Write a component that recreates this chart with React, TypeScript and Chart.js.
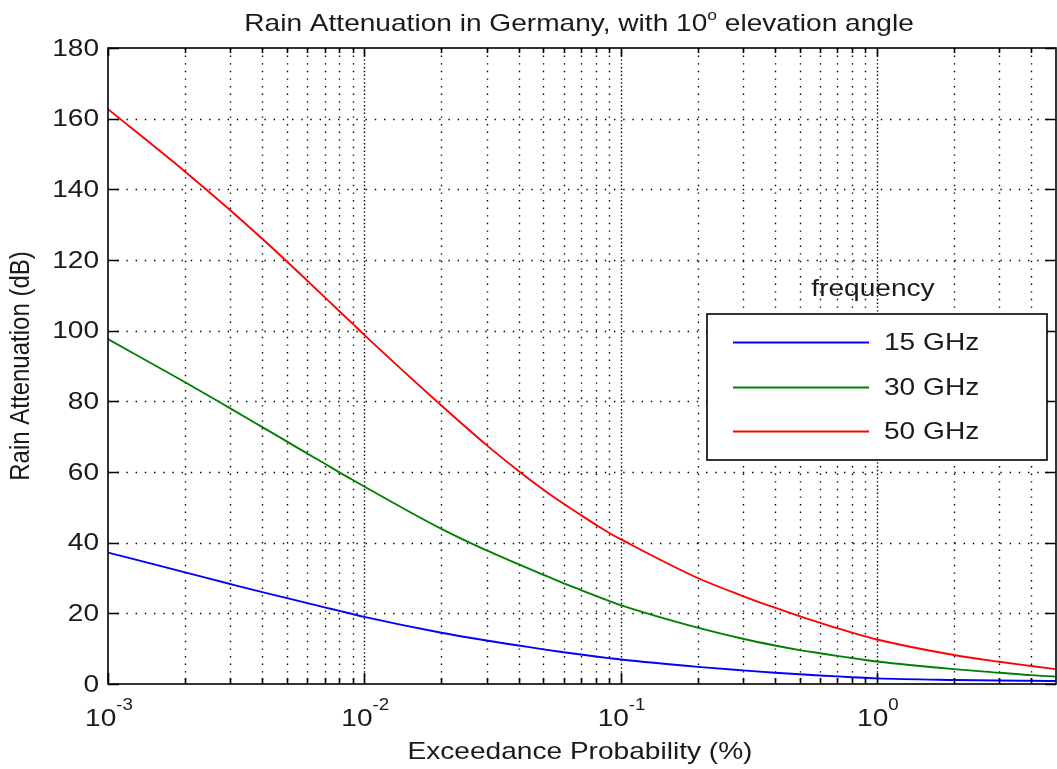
import React, { useEffect, useRef } from 'react';
import { Chart, registerables } from 'chart.js';

Chart.register(...registerables);

// ---------------- data ----------------
const probabilities = [
  0.001, 0.002, 0.003, 0.004, 0.005, 0.006, 0.007, 0.008, 0.009,
  0.01, 0.02, 0.03, 0.04, 0.05, 0.06, 0.07, 0.08, 0.09,
  0.1, 0.2, 0.3, 0.4, 0.5, 0.6, 0.7, 0.8, 0.9,
  1, 2, 3, 4, 5,
];
const att15GHz = [
  37.2, 31.6, 28.3, 26.0, 24.3, 22.9, 21.7, 20.7, 19.8,
  19.0, 14.5, 12.3, 10.9, 9.8, 9.0, 8.35, 7.8, 7.33,
  6.92, 4.85, 3.85, 3.2, 2.75, 2.42, 2.15, 1.93, 1.75,
  1.6, 1.15, 0.98, 0.9, 0.85,
];
const att30GHz = [
  97.6, 85.4, 78.0, 72.7, 68.6, 65.2, 62.4, 59.9, 57.8,
  55.9, 43.9, 37.8, 33.9, 30.9, 28.5, 26.6, 24.95, 23.55,
  22.35, 15.95, 12.8, 10.9, 9.6, 8.7, 7.95, 7.35, 6.8,
  6.35, 4.2, 3.2, 2.5, 2.1,
];
const att50GHz = [
  162.7, 145.0, 134.1, 126.0, 119.5, 114.1, 109.5, 105.5, 102.0,
  98.8, 78.8, 67.6, 60.3, 55.0, 51.0, 47.8, 45.1, 42.8,
  41.0, 30.0, 24.9, 21.6, 19.2, 17.3, 15.8, 14.55, 13.5,
  12.6, 8.2, 6.3, 5.1, 4.2,
];
const seriesLabels = ['15 GHz', '30 GHz', '50 GHz'];
const seriesColors = ['#0000ff', '#008000', '#ff0000'];

const yTicks = [0, 20, 40, 60, 80, 100, 120, 140, 160, 180];
const xMajorTicks = [0.001, 0.01, 0.1, 1];
const xMajorExponents = ['-3', '-2', '-1', '0'];
const xMinorTicks = [
  0.002, 0.003, 0.004, 0.005, 0.006, 0.007, 0.008, 0.009,
  0.02, 0.03, 0.04, 0.05, 0.06, 0.07, 0.08, 0.09,
  0.2, 0.3, 0.4, 0.5, 0.6, 0.7, 0.8, 0.9,
  2, 3, 4,
];
const xMin = 0.001;
const xMax = 5;
const yMin = 0;
const yMax = 180;

const titleMain = 'Rain Attenuation in Germany, with 10';
const titleSup = 'o';
const titleRest = ' elevation angle';
const xTitle = 'Exceedance Probability (%)';
const yTitle = 'Rain Attenuation (dB)';
const legendTitle = 'frequency';

// ---------------- drawing helpers ----------------
const FONT = '"Liberation Sans", Arial, Helvetica, sans-serif';
const SX = 1.17;

type Seg = { t: string; size: number; dy: number };

function segWidth(ctx: CanvasRenderingContext2D, segs: Seg[]) {
  let w = 0;
  for (const s of segs) {
    ctx.font = `${s.size}px ${FONT}`;
    w += ctx.measureText(s.t).width * SX;
  }
  return w;
}

function drawSegs(
  ctx: CanvasRenderingContext2D,
  segs: Seg[],
  x: number,
  y: number,
  align: 'left' | 'center' | 'right',
  baseline: CanvasTextBaseline = 'alphabetic'
) {
  ctx.save();
  ctx.fillStyle = '#1a1a1a';
  ctx.textAlign = 'left';
  ctx.textBaseline = baseline;
  const total = segWidth(ctx, segs);
  let cx = align === 'left' ? x : align === 'center' ? x - total / 2 : x - total;
  for (const s of segs) {
    ctx.font = `${s.size}px ${FONT}`;
    const w = ctx.measureText(s.t).width * SX;
    ctx.save();
    ctx.translate(cx, y + s.dy);
    ctx.scale(SX, 1);
    ctx.fillText(s.t, 0, 0);
    ctx.restore();
    cx += w;
  }
  ctx.restore();
}

const matlabPlugin = {
  id: 'matlabAxes',
  beforeDatasetsDraw(chart: any) {
    const { ctx, chartArea: a, scales } = chart;
    const xs = scales.x;
    const ys = scales.y;
    ctx.save();
    ctx.strokeStyle = '#000';
    ctx.lineWidth = 1.4;
    const vLine = (px: number, offset: number) => {
      ctx.setLineDash([1.4, 6.2]);
      ctx.lineDashOffset = offset;
      ctx.beginPath();
      ctx.moveTo(px, a.top);
      ctx.lineTo(px, a.bottom);
      ctx.stroke();
    };
    for (const v of xMinorTicks) {
      vLine(Math.round(xs.getPixelForValue(v)) + 0.5, 0);
    }
    for (const v of xMajorTicks) {
      if (v <= xMin) continue;
      const px = Math.round(xs.getPixelForValue(v)) + 0.5;
      vLine(px, 0);
      vLine(px, 3.8);
    }
    ctx.setLineDash([1.4, 7.8]);
    ctx.lineDashOffset = 0;
    for (const v of yTicks) {
      if (v <= yMin || v >= yMax) continue;
      const py = Math.round(ys.getPixelForValue(v)) + 0.5;
      ctx.beginPath();
      ctx.moveTo(a.left, py);
      ctx.lineTo(a.right, py);
      ctx.stroke();
    }
    ctx.restore();
  },
  afterDatasetsDraw(chart: any) {
    const { ctx, chartArea: a, scales, data } = chart;
    const xs = scales.x;
    const ys = scales.y;
    ctx.save();
    ctx.setLineDash([]);
    ctx.strokeStyle = '#000';
    ctx.lineWidth = 1.6;
    ctx.strokeRect(a.left, a.top, a.right - a.left, a.bottom - a.top);

    for (const v of yTicks) {
      const py = Math.round(ys.getPixelForValue(v)) + 0.5;
      ctx.beginPath();
      ctx.moveTo(a.left, py);
      ctx.lineTo(a.left + 11, py);
      ctx.moveTo(a.right, py);
      ctx.lineTo(a.right - 11, py);
      ctx.stroke();
    }
    for (const v of xMajorTicks) {
      const px = Math.round(xs.getPixelForValue(v)) + 0.5;
      ctx.beginPath();
      ctx.moveTo(px, a.bottom);
      ctx.lineTo(px, a.bottom - 11);
      ctx.moveTo(px, a.top);
      ctx.lineTo(px, a.top + 8);
      ctx.stroke();
    }
    for (const v of xMinorTicks) {
      const px = Math.round(xs.getPixelForValue(v)) + 0.5;
      ctx.beginPath();
      ctx.moveTo(px, a.bottom);
      ctx.lineTo(px, a.bottom - 6);
      ctx.moveTo(px, a.top);
      ctx.lineTo(px, a.top + 5);
      ctx.stroke();
    }
    ctx.restore();

    for (const v of yTicks) {
      const py = ys.getPixelForValue(v);
      drawSegs(ctx, [{ t: String(v), size: 24, dy: 1 }], a.left - 9, py, 'right', 'middle');
    }
    xMajorTicks.forEach((v, i) => {
      const px = xs.getPixelForValue(v);
      drawSegs(
        ctx,
        [
          { t: '10', size: 24, dy: 0 },
          { t: xMajorExponents[i], size: 16, dy: -16 },
        ],
        px + 1,
        a.bottom + 42,
        'center'
      );
    });

    drawSegs(
      ctx,
      [
        { t: titleMain, size: 24, dy: 0 },
        { t: titleSup, size: 15, dy: -11 },
        { t: titleRest, size: 24, dy: 0 },
      ],
      (a.left + a.right) / 2 - 3,
      31,
      'center'
    );
    drawSegs(ctx, [{ t: xTitle, size: 24, dy: 0 }], (a.left + a.right) / 2 - 2, 759, 'center');
    ctx.save();
    ctx.translate(29, (a.top + a.bottom) / 2);
    ctx.rotate(-Math.PI / 2);
    ctx.scale(1, SX);
    ctx.font = `24px ${FONT}`;
    ctx.fillStyle = '#1a1a1a';
    ctx.textAlign = 'center';
    ctx.textBaseline = 'alphabetic';
    ctx.fillText(yTitle, 0, 0);
    ctx.restore();

    const lx0 = 707;
    const ly0 = 314;
    const lx1 = 1047;
    const ly1 = 460;
    drawSegs(ctx, [{ t: legendTitle, size: 24, dy: 0 }], 873, 296, 'center');
    ctx.save();
    ctx.fillStyle = '#ffffff';
    ctx.fillRect(lx0, ly0, lx1 - lx0, ly1 - ly0);
    ctx.strokeStyle = '#000';
    ctx.lineWidth = 1.6;
    ctx.strokeRect(lx0, ly0, lx1 - lx0, ly1 - ly0);
    const rowY = [342, 387, 431];
    data.datasets.forEach((ds: any, i: number) => {
      ctx.strokeStyle = ds.borderColor;
      ctx.lineWidth = 1.9;
      ctx.beginPath();
      ctx.moveTo(733, rowY[i] + 0.5);
      ctx.lineTo(869, rowY[i] + 0.5);
      ctx.stroke();
      drawSegs(ctx, [{ t: ds.label, size: 24, dy: 1 }], 884, rowY[i], 'left', 'middle');
    });
    ctx.restore();
  },
};

export default function App() {
  const canvasRef = useRef<HTMLCanvasElement | null>(null);

  useEffect(() => {
    const canvas = canvasRef.current;
    if (!canvas) return;
    const series = [att15GHz, att30GHz, att50GHz];
    const chart = new Chart(canvas, {
      type: 'line',
      data: {
        datasets: series.map((vals, i) => ({
          label: seriesLabels[i],
          data: probabilities.map((p, j) => ({ x: p, y: vals[j] })),
          borderColor: seriesColors[i],
          backgroundColor: seriesColors[i],
          borderWidth: 1.9,
          pointRadius: 0,
          fill: false,
          cubicInterpolationMode: 'monotone' as const,
        })),
      },
      options: {
        responsive: false,
        animation: false,
        devicePixelRatio: 1,
        layout: { padding: { left: 108, right: 1, top: 48, bottom: 85 } },
        plugins: {
          legend: { display: false },
          title: { display: false },
          tooltip: { enabled: false },
        },
        scales: {
          x: { type: 'logarithmic', min: xMin, max: xMax, display: false },
          y: { type: 'linear', min: yMin, max: yMax, display: false },
        },
      },
      plugins: [matlabPlugin],
    });
    return () => chart.destroy();
  }, []);

  return (
    <div style={{ position: 'fixed', left: 0, top: 0, width: 1057, height: 769, background: '#fff' }}>
      <canvas ref={canvasRef} width={1057} height={769} style={{ display: 'block' }} />
    </div>
  );
}
